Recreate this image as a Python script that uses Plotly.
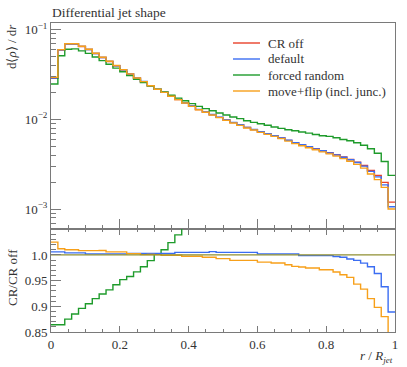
import numpy as np
import plotly.graph_objects as go

# ---------------- data ----------------
bin_edges = np.round(np.linspace(0.0, 1.0, 51), 4).tolist()

cr_off = [0.0287, 0.0591, 0.0688, 0.0688, 0.0646, 0.0599, 0.0540, 0.0488, 0.0441, 0.0395,
          0.0356, 0.0320, 0.0288, 0.0263, 0.0237, 0.0216, 0.0200, 0.0181, 0.0166, 0.01526,
          0.01401, 0.01285, 0.01205, 0.01124, 0.01053, 0.00983, 0.00921, 0.00867, 0.00811, 0.00769,
          0.00727, 0.00690, 0.00658, 0.00620, 0.00584, 0.00550, 0.00522, 0.00496, 0.00471, 0.00448,
          0.00425, 0.00404, 0.00381, 0.00358, 0.00335, 0.00307, 0.00270, 0.00238, 0.00199, 0.00120]

default = [0.028872, 0.059455, 0.069075, 0.069075, 0.064858, 0.060020, 0.054108, 0.048898, 0.044188, 0.039579,
           0.035671, 0.032096, 0.028886, 0.026379, 0.023771, 0.021665, 0.020060, 0.018154, 0.016683, 0.015336,
           0.014080, 0.012914, 0.012110, 0.011313, 0.010583, 0.0098792, 0.0092561, 0.0087134, 0.0081506, 0.0077285,
           0.0072845, 0.0069138, 0.0065932, 0.0062124, 0.0058517, 0.0055110, 0.0052130, 0.0049536, 0.0047039, 0.0044742,
           0.0042445, 0.0040279, 0.0037925, 0.0035514, 0.0033148, 0.0030209, 0.0026379, 0.0022943, 0.0018666, 0.0010668]

forced_random = [0.024797, 0.051062, 0.060200, 0.060888, 0.057882, 0.054210, 0.049410, 0.045091, 0.041101, 0.037209,
                 0.033891, 0.030656, 0.027850, 0.025695, 0.023439, 0.021622, 0.020200, 0.018534, 0.017247, 0.01610,
                 0.01496, 0.01397, 0.01316, 0.01249, 0.01177, 0.01119, 0.01063, 0.01019, 0.00967, 0.00927,
                 0.00896, 0.00860, 0.00822, 0.00794, 0.00768, 0.00748, 0.00723, 0.00704, 0.00680, 0.00658,
                 0.00647, 0.00625, 0.00598, 0.00578, 0.00550, 0.00515, 0.00471, 0.00420, 0.00340, 0.00238]

move_flip = [0.029418, 0.059809, 0.069488, 0.069488, 0.065149, 0.060409, 0.054459, 0.049215, 0.044365, 0.039737,
             0.035814, 0.032083, 0.028875, 0.026318, 0.023717, 0.021615, 0.019986, 0.018087, 0.016588, 0.015220,
             0.013974, 0.012817, 0.011995, 0.011188, 0.010454, 0.0097592, 0.0091133, 0.0085790, 0.0080248, 0.0076093,
             0.0071682, 0.0068034, 0.0064767, 0.0061027, 0.0057290, 0.0053779, 0.0050973, 0.0048340, 0.0045904, 0.0043514,
             0.0041280, 0.0039055, 0.0036633, 0.0034236, 0.0031597, 0.0028658, 0.0024705, 0.0021372, 0.0017512, 0.0010080]

series_names = ["CR off", "default", "forced random", "move+flip (incl. junc.)"]
series_colors = ["#e8412a", "#3b6df2", "#1e9b2b", "#f7a01a"]
ratio_ref_color = "#8f8f32"

main_ticks = [1e-3, 1e-2, 1e-1]
main_ticktext = ["10<sup>−3</sup>", "10<sup>−2</sup>", "10<sup>−1</sup>"]
ratio_ticks = [0.85, 0.9, 0.95, 1.0]
ratio_ticktext = ["0.85", "0.9", "0.95", "1.0"]
x_ticks = [0, 0.2, 0.4, 0.6, 0.8, 1.0]
x_ticktext = ["0", "0.2", "0.4", "0.6", "0.8", "1"]

# ---------------- figure ----------------
FONT = "Liberation Serif"
AXC = "#7a7a7a"
TXT = "#333333"
FS = 13

W, H = 407, 367
ML, MR, MT, MB = 51, 12, 23, 35
PW, PH = W - ML - MR, H - MT - MB


def px_x(px):
    return (px - ML) / PW


def px_y(py):
    return (H - MB - py) / PH


def steps(v):
    return list(v) + [v[-1]]


fig = go.Figure()
all_series = [cr_off, default, forced_random, move_flip]
for i in [0, 1, 2, 3]:
    fig.add_trace(go.Scatter(
        x=bin_edges, y=steps(all_series[i]), mode="lines", name=series_names[i],
        line=dict(shape="hv", color=series_colors[i], width=1.4),
        xaxis="x", yaxis="y", showlegend=False))

# ratios
ref = np.array(cr_off)
for i in [2, 1, 3]:
    r = (np.array(all_series[i]) / ref).tolist()
    fig.add_trace(go.Scatter(
        x=bin_edges, y=steps(r), mode="lines", showlegend=False,
        line=dict(shape="hv", color=series_colors[i], width=1.4),
        xaxis="x2", yaxis="y2"))
r0 = (ref / ref).tolist()
fig.add_trace(go.Scatter(
    x=bin_edges, y=steps(r0), mode="lines", showlegend=False,
    line=dict(shape="hv", color=ratio_ref_color, width=1.2),
    xaxis="x2", yaxis="y2"))

minor_log = [m * d for d in [1e-4, 1e-3, 1e-2, 1e-1] for m in range(2, 10)]
minor_ratio = [round(0.85 + 0.01 * k, 3) for k in range(0, 21)]
minor_ratio = [v for v in minor_ratio if v not in ratio_ticks]
minor_x = [round(0.05 * k, 2) for k in range(21)]

common_axis = dict(showgrid=False, zeroline=False, showline=True, linecolor=AXC, linewidth=1,
                   tickcolor=AXC, automargin=False,
                   tickfont=dict(family=FONT, size=FS, color=TXT))

fig.update_layout(
    width=W, height=H,
    margin=dict(l=ML, r=MR, t=MT, b=MB, autoexpand=False),
    paper_bgcolor="white", plot_bgcolor="white",
    font=dict(family=FONT, size=FS, color=TXT),
    showlegend=False,
    xaxis=dict(domain=[0, 1], range=[0, 1], anchor="y", showticklabels=False,
               ticks="inside", ticklen=10, tickvals=x_ticks, mirror=True,
               minor=dict(ticks="inside", ticklen=4, tickcolor=AXC, tickmode="array", tickvals=minor_x),
               **common_axis),
    yaxis=dict(domain=[1 / 3, 1], type="log", range=[-3.2196, -0.9275], anchor="x",
               tickmode="array", tickvals=main_ticks, ticktext=main_ticktext,
               ticks="inside", ticklen=10, mirror=True,
               minor=dict(ticks="inside", ticklen=5, tickcolor=AXC, tickmode="array", tickvals=minor_log),
               **common_axis),
    xaxis2=dict(domain=[0, 1], range=[0, 1], anchor="y2",
                tickmode="array", tickvals=x_ticks, ticktext=x_ticktext,
                ticks="inside", ticklen=6, mirror="ticks",
                minor=dict(ticks="inside", ticklen=3, tickcolor=AXC, tickmode="array", tickvals=minor_x),
                **common_axis),
    yaxis2=dict(domain=[0, 1 / 3], range=[0.85, 1.0505], anchor="x2",
                tickmode="array", tickvals=ratio_ticks, ticktext=ratio_ticktext,
                ticks="inside", ticklen=10, mirror=True,
                minor=dict(ticks="inside", ticklen=5, tickcolor=AXC, tickmode="array", tickvals=minor_ratio),
                **common_axis),
)

annotations = [
    dict(text="Differential jet shape", xref="paper", yref="paper", x=px_x(50), y=px_y(12),
         xanchor="left", yanchor="middle", showarrow=False, font=dict(family=FONT, size=13.5, color=TXT)),
    dict(text="d⟨<i>ρ</i>⟩ / d<i>r</i>", xref="paper", yref="paper", x=px_x(12), y=px_y(47),
         xanchor="center", yanchor="middle", textangle=-90, showarrow=False,
         font=dict(family=FONT, size=FS, color=TXT)),
    dict(text="CR/CR off", xref="paper", yref="paper", x=px_x(12), y=px_y(278),
         xanchor="center", yanchor="middle", textangle=-90, showarrow=False,
         font=dict(family=FONT, size=FS, color=TXT)),
    dict(text="<i>r</i> / <i>R</i><sub><i>jet</i></sub>", xref="paper", yref="paper", x=px_x(395), y=px_y(346),
         xanchor="right", yanchor="top", showarrow=False, font=dict(family=FONT, size=FS, color=TXT)),
]

# legend (drawn inside the upper panel, top right)
legend_rows = [43, 59, 75, 91]
shapes = []
for name, col, ry in zip(series_names, series_colors, legend_rows):
    shapes.append(dict(type="line", xref="paper", yref="paper",
                       x0=px_x(233), x1=px_x(260), y0=px_y(ry), y1=px_y(ry),
                       line=dict(color=col, width=1.4)))
    annotations.append(dict(text=name, xref="paper", yref="paper", x=px_x(266), y=px_y(ry),
                            xanchor="left", yanchor="middle", showarrow=False,
                            font=dict(family=FONT, size=FS, color=TXT)))

fig.update_layout(annotations=annotations, shapes=shapes)

fig.write_html("out.html", config={"displayModeBar": False},
               post_script="document.body.style.margin='0';")
